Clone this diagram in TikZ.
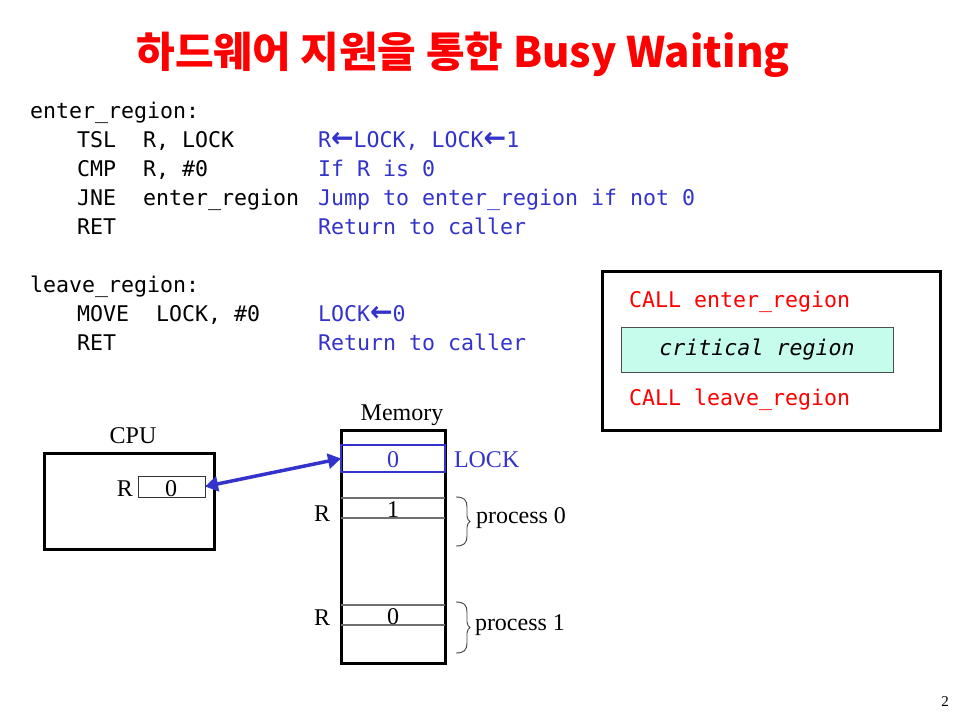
\documentclass[tikz,border=0pt]{standalone}
\usepackage{fontspec}
\setmainfont{Liberation Serif}
\setmonofont{DejaVu Sans Mono}
\newfontfamily\krfont{Noto Sans CJK KR}
\newfontfamily\arrfont{DejaVu Sans}
\newcommand{\larr}{\scalebox{1.25}[1.3]{\arrfont\bfseries ←}}
\usetikzlibrary{decorations.pathreplacing,arrows.meta}
\definecolor{codeblue}{HTML}{3333CC}
\definecolor{critfill}{HTML}{C6FCEC}
\definecolor{cellgray}{HTML}{707070}
\begin{document}
\begin{tikzpicture}[x=1pt,y=-1pt,
  every node/.style={inner sep=0pt, outer sep=0pt},
  code/.style={anchor=base west, font=\ttfamily\fontsize{21.6}{26}\selectfont},
  cmt/.style={code, text=codeblue},
  redcode/.style={code, text=red},
  serif/.style={font=\fontsize{24}{28}\selectfont},
  bigbox/.style={draw=black, line width=3pt},
  cellline/.style={draw=cellgray, line width=1.3pt},
  brc/.style={draw=black!75, line width=0.9pt},
  arr/.style={draw=codeblue, line width=3.5pt, {Triangle[length=13pt,width=15pt]}-{Triangle[length=13pt,width=15pt]}}
]
\useasboundingbox (0,0) rectangle (960,720);

% title
\node[anchor=base, text=red, font=\krfont\bfseries\fontsize{42}{48}\selectfont] (title) at (463,67) {하드웨어 지원을 통한 Busy Waiting};

% code
\node[code] (e0) at (30,118) {enter\_region:};
\node[code] (e1a) at (77,147) {TSL};
\node[code] (e1b) at (143,147) {R, LOCK};
\node[cmt]  (e1c) at (318,147) {R\larr LOCK, LOCK\larr 1};
\node[code] (e2a) at (77,176) {CMP};
\node[code] (e2b) at (143,176) {R, \#0};
\node[cmt]  (e2c) at (318,176) {If R is 0};
\node[code] (e3a) at (77,205) {JNE};
\node[code] (e3b) at (143,205) {enter\_region};
\node[cmt]  (e3c) at (318,205) {Jump to enter\_region if not 0};
\node[code] (e4a) at (77,234) {RET};
\node[cmt]  (e4c) at (318,234) {Return to caller};

\node[code] (l0) at (30,292) {leave\_region:};
\node[code] (l1a) at (77,321) {MOVE};
\node[code] (l1b) at (156,321) {LOCK, \#0};
\node[cmt]  (l1c) at (318,321) {LOCK\larr 0};
\node[code] (l2a) at (77,350) {RET};
\node[cmt]  (l2c) at (318,350) {Return to caller};

% right box
\node[bigbox, minimum width=338pt, minimum height=159pt] (rbox) at (771,351) {};
\node[redcode] (call1) at (629,307) {CALL enter\_region};
\node[draw=black!70, line width=0.8pt, fill=critfill, minimum width=272pt, minimum height=45pt,
      font=\ttfamily\itshape\fontsize{21.6}{26}\selectfont] (crit) at (757,349.5) {critical region};
\node[redcode] (call2) at (629,405) {CALL leave\_region};

% CPU
\node[bigbox, minimum width=170pt, minimum height=96pt] (cpu) at (129,501) {};
\node[serif, anchor=base] (cpulbl) at (133,443) {CPU};
\node[draw=black!80, line width=0.9pt, minimum width=67pt, minimum height=21pt] (reg) at (171.5,486.5) {};
\node[serif, anchor=base] (regval) at (171,496) {0};
\node[serif, anchor=base east] (regR) at (133,496) {R};

% Memory
\node[bigbox, minimum width=104pt, minimum height=233pt] (mem) at (393,546.5) {};
\node[serif, anchor=base] (memlbl) at (402,420) {Memory};
\node[draw=codeblue, line width=2.5pt, minimum width=104pt, minimum height=27pt] (lockcell) at (393,458.5) {};
\node[serif, anchor=base, text=codeblue] (lockval) at (393,467) {0};
\node[serif, anchor=base west, text=codeblue] (locklbl) at (454,467) {LOCK};

\coordinate (p0a) at (mem.west |- 0,498);
\coordinate (p0b) at (mem.east |- 0,498);
\coordinate (p0c) at (mem.west |- 0,518);
\coordinate (p0d) at (mem.east |- 0,518);
\draw[cellline] (p0a) -- (p0b);
\draw[cellline] (p0c) -- (p0d);
\node[serif, anchor=base] (p0val) at (393,517) {1};
\node[serif, anchor=base west] (p0R) at (314,521) {R};

\coordinate (p1a) at (mem.west |- 0,605);
\coordinate (p1b) at (mem.east |- 0,605);
\coordinate (p1c) at (mem.west |- 0,625);
\coordinate (p1d) at (mem.east |- 0,625);
\draw[cellline] (p1a) -- (p1b);
\draw[cellline] (p1c) -- (p1d);
\node[serif, anchor=base] (p1val) at (393,624) {0};
\node[serif, anchor=base west] (p1R) at (314,625) {R};

% braces
\coordinate (b0t) at (456,497);
\coordinate (b0b) at (456,546);
\coordinate (b1t) at (456,602);
\coordinate (b1b) at (456,653);
\draw[brc] (b0t) .. controls (464,497) and (467,500) .. (467,507)
  -- (467,516) .. controls (467,519) and (469,521) .. (470,521.5)
  .. controls (469,522) and (467,524) .. (467,527)
  -- (467,536) .. controls (467,543) and (464,546) .. (b0b);
\draw[brc] (b1t) .. controls (464,602) and (467,605) .. (467,612)
  -- (467,622) .. controls (467,625) and (469,627) .. (470,627.5)
  .. controls (469,628) and (467,630) .. (467,633)
  -- (467,643) .. controls (467,650) and (464,653) .. (b1b);
\node[serif, anchor=base west] (proc0) at (476,523) {process 0};
\node[serif, anchor=base west] (proc1) at (475,630) {process 1};

% arrow
\draw[arr] (reg.east) -- (lockcell.west);

% page number
\node[anchor=base, font=\fontsize{15}{18}\selectfont] (pgno) at (945,706) {2};
\end{tikzpicture}
\end{document}
